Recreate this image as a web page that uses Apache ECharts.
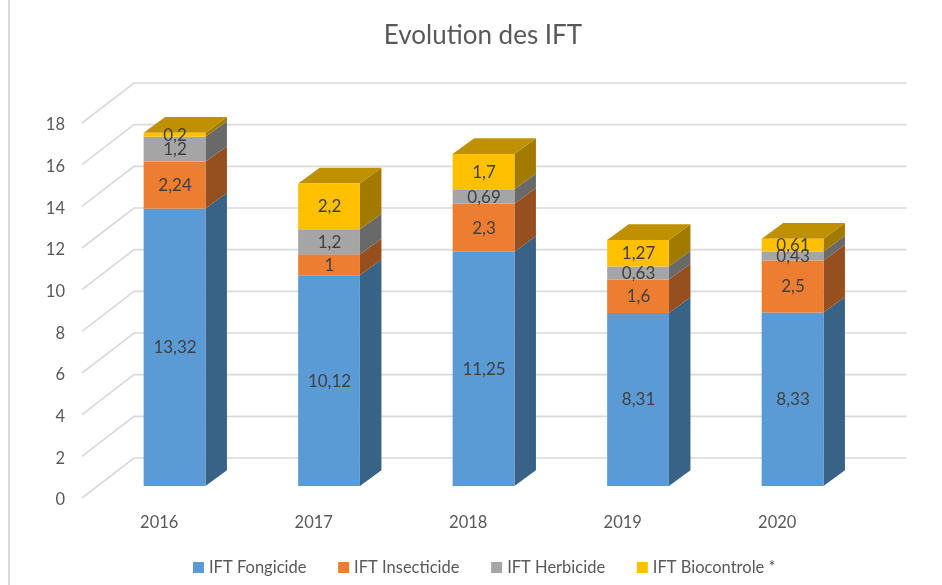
<!DOCTYPE html>
<html>
<head>
<meta charset="utf-8">
<style>html,body{margin:0;padding:0;background:#fff}#c{width:942px;height:585px}</style>
<script src="https://cdn.jsdelivr.net/npm/echarts@6/dist/echarts.min.js"></script>
</head>
<body>
<div id="c"></div>
<script>
const categories = ['2016', '2017', '2018', '2019', '2020'];
const yTicks = [0, 2, 4, 6, 8, 10, 12, 14, 16, 18];
const fongicide = [13.32, 10.12, 11.25, 8.31, 8.33];
const insecticide = [2.24, 1, 2.3, 1.6, 2.5];
const herbicide = [1.2, 1.2, 0.69, 0.63, 0.43];
const biocontrole = [0.2, 2.2, 1.7, 1.27, 0.61];

const FONT = 'Lato';
const layers = [
  { name: 'IFT Fongicide', values: fongicide, front: '#5B9BD5', side: '#386286' },
  { name: 'IFT Insecticide', values: insecticide, front: '#ED7D31', side: '#964F1E' },
  { name: 'IFT Herbicide', values: herbicide, front: '#A5A5A5', side: '#696969' },
  { name: 'IFT Biocontrole *', values: biocontrole, front: '#FFC000', side: '#A37A00', top: '#BF9000' }
];

// oblique projection: wall depth, bar plane offset and bar depth
const WALL = [52, -40];
const PLANE = [15.3, -12];
const DEPTH = [21.5, -15.7];
const BAR_RATIO = 0.4;

function gridLines(params, api) {
  const p = api.coord([api.value(0), api.value(1)]);
  const band = api.size([1, 0])[0];
  const x0 = p[0] - band / 2;
  const y = p[1];
  return {
    type: 'polyline',
    silent: true,
    shape: { points: [[x0, y], [x0 + WALL[0], y + WALL[1]], [x0 + WALL[0] + band * categories.length, y + WALL[1]]] },
    style: { fill: 'none', stroke: '#D9D9D9', lineWidth: 1.6 }
  };
}

function barRenderer(layer) {
  return function (params, api) {
    const lo = api.coord([api.value(0), api.value(1)]);
    const hi = api.coord([api.value(0), api.value(2)]);
    const band = api.size([1, 0])[0];
    const w = band * BAR_RATIO;
    const xl = lo[0] - w / 2 + PLANE[0];
    const xr = xl + w;
    const yb = lo[1] + PLANE[1];
    const yt = hi[1] + PLANE[1];
    const children = [
      { type: 'polygon', shape: { points: [[xr, yb], [xr + DEPTH[0], yb + DEPTH[1]], [xr + DEPTH[0], yt + DEPTH[1]], [xr, yt]] }, style: { fill: layer.side } }
    ];
    if (layer.top) {
      children.push({ type: 'polygon', shape: { points: [[xl, yt], [xl + DEPTH[0], yt + DEPTH[1]], [xr + DEPTH[0], yt + DEPTH[1]], [xr, yt]] }, style: { fill: layer.top } });
    }
    children.push({ type: 'rect', shape: { x: xl, y: yt, width: w, height: yb - yt }, style: { fill: layer.front } });
    return { type: 'group', children };
  };
}

function labelRenderer(params, api) {
  const lo = api.coord([api.value(0), api.value(1)]);
  const hi = api.coord([api.value(0), api.value(2)]);
  return {
    type: 'text',
    silent: true,
    style: {
      x: lo[0] + PLANE[0] + 0.5,
      y: (lo[1] + hi[1]) / 2 + PLANE[1] + 0.5,
      text: String(api.value(3)).replace('.', ','),
      align: 'center',
      verticalAlign: 'middle',
      fill: '#404040',
      font: '17px ' + FONT
    }
  };
}

const base = categories.map(() => 0);
const barSeries = [];
const labelData = [];
layers.forEach(layer => {
  const data = categories.map((c, i) => {
    const row = [i, base[i], base[i] + layer.values[i], layer.values[i]];
    base[i] += layer.values[i];
    return row;
  });
  labelData.push(...data);
  barSeries.push({
    type: 'custom',
    name: layer.name,
    coordinateSystem: 'cartesian2d',
    itemStyle: { color: layer.front },
    encode: { x: 0, y: [1, 2] },
    renderItem: barRenderer(layer),
    data,
    z: 3
  });
});

const chart = echarts.init(document.getElementById('c'));
chart.setOption({
  animation: false,
  backgroundColor: '#fff',
  title: {
    text: 'Evolution des IFT',
    left: 478, top: 18,
    textAlign: 'center',
    textStyle: { fontFamily: FONT, fontSize: 26, fontWeight: 'normal', color: '#595959' }
  },
  legend: {
    left: 188, top: 554,
    itemWidth: 11, itemHeight: 11, itemGap: 31.7,
    icon: 'rect',
    data: layers.map(l => l.name),
    textStyle: { fontFamily: FONT, fontSize: 16.5, color: '#595959' }
  },
  graphic: [{
    type: 'rect', silent: true,
    shape: { x: 8, y: 0, width: 2, height: 585 },
    style: { fill: '#D9D9D9' }
  }],
  grid: { left: 82, top: 123, width: 772.5, height: 375 },
  xAxis: {
    type: 'category',
    data: categories,
    axisLine: { show: false },
    axisTick: { show: false },
    splitLine: { show: false },
    axisLabel: { margin: 16, fontFamily: FONT, fontSize: 16.5, color: '#595959' }
  },
  yAxis: {
    type: 'value',
    min: 0, max: 18, interval: 2,
    axisLine: { show: false },
    axisTick: { show: false },
    splitLine: { show: false },
    axisLabel: { margin: 17, padding: [2, 0, 0, 0], verticalAlign: 'top', lineHeight: 0, fontFamily: FONT, fontSize: 16.5, color: '#595959' }
  },
  series: [
    { type: 'custom', name: 'grid', coordinateSystem: 'cartesian2d', silent: true,
      encode: { x: 0, y: 1 }, renderItem: gridLines,
      data: yTicks.map(v => [0, v]), z: 1 },
    ...barSeries,
    { type: 'custom', name: 'labels', coordinateSystem: 'cartesian2d', silent: true,
      encode: { x: 0, y: [1, 2] }, renderItem: labelRenderer, data: labelData, z: 5 }
  ]
});
</script>
</body>
</html>
